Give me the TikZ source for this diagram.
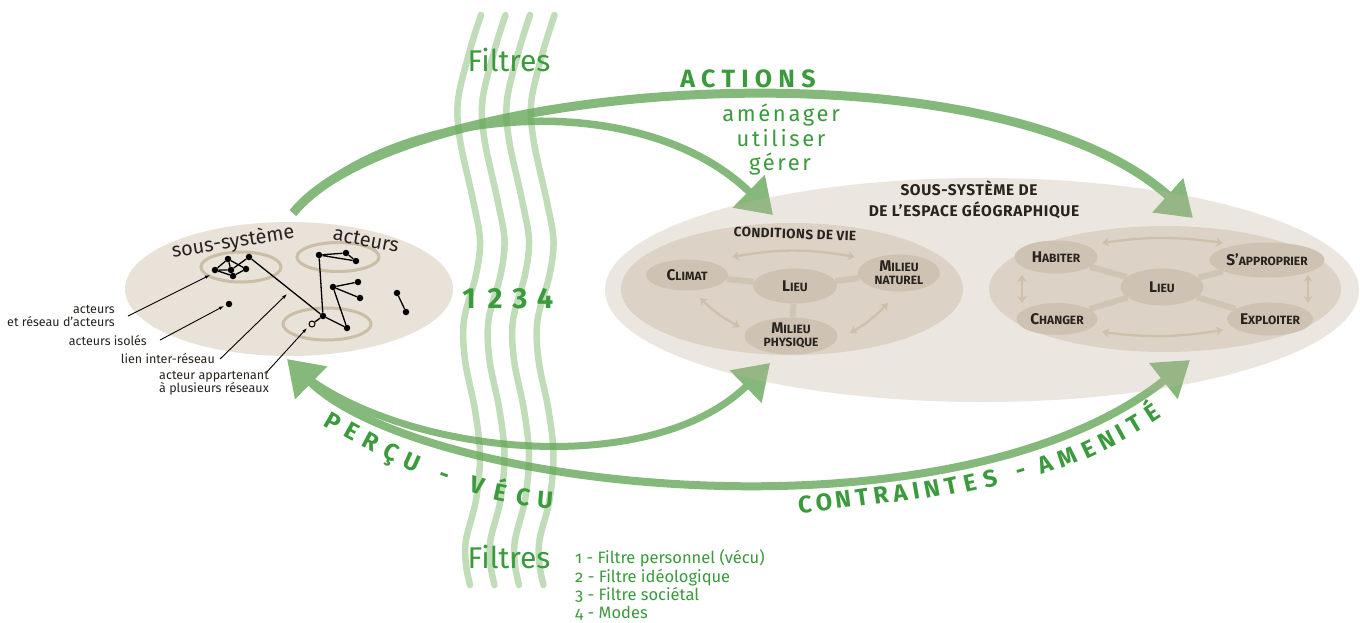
\documentclass[tikz,border=0pt]{standalone}
\usepackage{fontspec}
\setmainfont{Fira Sans}
\usetikzlibrary{arrows.meta,shapes.geometric}
\definecolor{gtext}{RGB}{58,154,60}
\definecolor{garrow}{RGB}{133,185,124}
\definecolor{gfilt}{RGB}{102,168,80}
\definecolor{bgleft}{RGB}{232,226,217}
\definecolor{bgbig}{RGB}{192,178,155}
\definecolor{innerc}{RGB}{220,211,198}
\definecolor{nodec}{RGB}{206,195,178}
\definecolor{linkc}{RGB}{207,197,181}
\definecolor{darrc}{RGB}{205,192,172}
\definecolor{ringc}{RGB}{203,189,166}
\definecolor{txtdark}{RGB}{40,35,30}
\newcommand\Sc[2]{{\fontsize{15.5}{13}\selectfont #1}{\fontsize{12}{13}\selectfont #2}}
\newcommand\Sm[1]{{\fontsize{12}{13}\selectfont #1}}
\newcommand\apos{\symbol{"27}}
\begin{document}
\begin{tikzpicture}[x=1pt,y=-1pt,
  Big/.tip={Triangle[width=44pt,length=34pt]},
  Small/.tip={Stealth[length=7pt,width=9pt]},
  Ptr/.tip={Latex[length=5pt,width=3.5pt]},
  garc/.style={draw=garrow},
  ring/.style={draw=ringc, line width=3pt},
  dot/.style={circle, fill=black, inner sep=0pt, minimum size=6.5pt},
  odot/.style={circle, draw=black, fill=bgleft, line width=1pt, inner sep=0pt, minimum size=6pt},
  net/.style={draw=black, line width=1.3pt},
  ptr/.style={draw=black, line width=0.9pt, -Ptr},
  lbl/.style={font=\fontsize{12.5}{13}\selectfont, text=txtdark, inner sep=0pt, align=right},
  el/.style={ellipse, fill=nodec, inner sep=0pt, align=center, text=txtdark, font=\bfseries\fontsize{12}{13}\selectfont},
  lk/.style={draw=linkc, line width=6pt},
  da/.style={draw=darrc, line width=2.3pt, Small-Small},
  filt/.style={draw=gfilt, draw opacity=0.4, line width=6.5pt, line cap=round},
  gl/.style={text=gtext, inner sep=0pt},
  curvl/.style={text=gtext, inner sep=0pt, text height=16pt, text depth=0pt, anchor=center, font=\bfseries\fontsize{24}{24}\selectfont},
  head/.style={text=txtdark, inner sep=0pt, font=\bfseries\fontsize{15.5}{15.5}\selectfont\addfontfeatures{LetterSpace=4}}
]
\useasboundingbox (0,0) rectangle (1360,622);
\fill[white] (0,0) rectangle (1360,622);

% left sub-system
\fill[bgleft] (289,289) ellipse [x radius=164, y radius=67];

% big arcs
\coordinate (ts) at (293,213);
\coordinate (te1) at (773,215);
\coordinate (te2) at (1193,218);
\coordinate (bs) at (287,359);
\coordinate (bs2) at (305,376);
\coordinate (be1) at (770,363);
\coordinate (be2) at (1190,360);
\draw[garc, line width=9pt, -Big] (ts) .. controls (400,80) and (990,35) .. (te2);
\draw[garc, line width=7.5pt, -Big] (ts) .. controls (390,105) and (640,85) .. (te1);
\draw[garc, line width=8pt, Big-Big] (bs) .. controls (420,490) and (950,550) .. (be2);
\draw[garc, line width=7pt, -Big] (bs2) .. controls (410,455) and (650,480) .. (be1);

% geographic space
\fill[bgbig, opacity=0.3] (982,290) ellipse [x radius=377, y radius=112];
\fill[innerc] (792,289) ellipse [x radius=171, y radius=66];
\fill[innerc] (1165,289) ellipse [x radius=176, y radius=63];

% rings
\draw[ring] (241,267) ellipse [x radius=40, y radius=15];
\draw[ring] (338,257) ellipse [x radius=41, y radius=14.5];
\draw[ring] (327,324) ellipse [x radius=44, y radius=16];

% network
\node[dot] (a1) at (228,259) {};
\node[dot] (a2) at (215,270) {};
\node[dot] (a3) at (231,270) {};
\node[dot] (a4) at (246,269) {};
\node[dot] (a5) at (233,276) {};
\node[dot] (a6) at (249,257) {};
\node[dot] (b0) at (323,316) {};
\node[dot] (b1) at (319,255) {};
\node[dot] (b2) at (346,253) {};
\node[dot] (b3) at (356,261) {};
\node[dot] (c1) at (333,287) {};
\node[dot] (c2) at (358,282) {};
\node[dot] (c3) at (360,298) {};
\node[dot] (c4) at (347,328) {};
\node[odot] (o1) at (312,324) {};
\node[dot] (d1) at (397,293) {};
\node[dot] (d2) at (406,312) {};
\node[dot] (e1) at (229,304) {};
\draw[net] (a2) -- (a1) -- (a4) -- (a5) -- (a2) -- (a3) -- (a6);
\draw[net] (a1) -- (a3);
\draw[net] (a6) -- (b0);
\draw[net] (b1) -- (b2) -- (b3) -- (b1) -- (b0);
\draw[net] (c2) -- (c1) -- (c3);
\draw[net] (c1) -- (c4) -- (b0) -- (o1);
\draw[net] (d1) -- (d2);

% labels left
\node[lbl, anchor=east] (l1) at (115,316) {acteurs\\et réseau d\apos acteurs};
\node[lbl, anchor=base east] (l2) at (147,345) {acteurs isolés};
\node[lbl, anchor=base east] (l3) at (215,363) {lien inter-réseau};
\node[lbl, anchor=east] (l4) at (269,383) {acteur appartenant\\à plusieurs réseaux};
\coordinate (p1) at (210,275);
\coordinate (p2) at (224,306);
\coordinate (p3) at (287,294);
\coordinate (p4) at (307,328);
\draw[ptr] ([xshift=13pt]l1.east) -- (p1);
\draw[ptr] ([xshift=13pt]l2.east) -- (p2);
\draw[ptr] ([xshift=5pt,yshift=-1pt]l3.east) -- (p3);
\draw[ptr] ([xshift=-2pt,yshift=-1pt]l4.north east) -- (p4);
\node[font=\fontsize{20}{20}\selectfont, text=txtdark, inner sep=0pt, rotate=9] (ss) at (233,242) {sous-système};
\node[font=\fontsize{20}{20}\selectfont, text=txtdark, inner sep=0pt, rotate=-11] (act) at (366,240) {acteurs};

% conditions de vie
\node[el, minimum width=82pt, minimum height=31pt] (climat) at (687,275) {\Sc{C}{LIMAT}};
\node[el, minimum width=84pt, minimum height=35pt] (lieuA) at (795,286) {\Sc{L}{IEU}};
\node[el, minimum width=82pt, minimum height=37pt] (naturel) at (899,273) {\Sc{M}{ILIEU}\\\Sm{NATUREL}};
\node[el, minimum width=93pt, minimum height=37pt] (physique) at (791,336) {\Sc{M}{ILIEU}\\\Sm{PHYSIQUE}};
\draw[lk] (lieuA) -- (climat);
\draw[lk] (lieuA) -- (naturel);
\draw[lk] (lieuA) -- (physique);
\coordinate (q1) at (732,257); \coordinate (q2) at (855,257);
\coordinate (q3) at (700,298); \coordinate (q4) at (740,327);
\coordinate (q5) at (850,333); \coordinate (q6) at (888,303);
\draw[da] (q1) to[bend left=10] (q2);
\draw[da] (q3) to[bend right=8] (q4);
\draw[da] (q5) to[bend right=8] (q6);
\node[text=txtdark, inner sep=0pt, font=\bfseries\fontsize{13.5}{13.5}\selectfont\addfontfeatures{LetterSpace=3}, rotate=-2] (cond) at (795,234) {CONDITIONS DE VIE};

% habiter etc.
\node[el, minimum width=83pt, minimum height=33pt] (habiter) at (1056,257) {\Sc{H}{ABITER}};
\node[el, minimum width=83pt, minimum height=37pt] (lieuB) at (1162,287) {\Sc{L}{IEU}};
\node[el, minimum width=93pt, minimum height=35pt] (approp) at (1267,260) {\Sc{S\apos}{APPROPRIER}};
\node[el, minimum width=81pt, minimum height=32pt] (changer) at (1057,319) {\Sc{C}{HANGER}};
\node[el, minimum width=86pt, minimum height=33pt] (exploit) at (1270,319) {\Sc{E}{XPLOITER}};
\draw[lk] (lieuB) -- (habiter);
\draw[lk] (lieuB) -- (approp);
\draw[lk] (lieuB) -- (changer);
\draw[lk] (lieuB) -- (exploit);
\coordinate (r1) at (1102,243); \coordinate (r2) at (1223,243);
\coordinate (r3) at (1102,332); \coordinate (r4) at (1223,330);
\coordinate (r5) at (1022,275); \coordinate (r6) at (1022,303);
\coordinate (r7) at (1308,275); \coordinate (r8) at (1308,303);
\draw[da] (r1) to[bend left=8] (r2);
\draw[da] (r3) to[bend right=8] (r4);
\draw[da] (r5) -- (r6);
\draw[da] (r7) -- (r8);
\node[head] (h1) at (969,188) {SOUS-SYSTÈME DE};
\node[head] (h2) at (974,210) {DE L\apos ESPACE GÉOGRAPHIQUE};

% filters
\foreach \k in {0,1,2,3}{
  \draw[filt, xshift=\k*24.5pt] plot[smooth, tension=0.55] coordinates {(481,15) (470,50) (458,100) (460,140) (473,200) (480,240) (476,275) (464,320) (465,360) (475,410) (480,455) (476,500) (466,540) (466,565) (470,585)};
}
\node[gl, anchor=base, font=\fontsize{30}{30}\selectfont] (f1) at (509,71) {Filtres};
\node[gl, anchor=base, font=\fontsize{30}{30}\selectfont] (f2) at (509,568) {Filtres};
\node[gl, anchor=base, font=\bfseries\fontsize{29}{29}\selectfont] (n1) at (469,308) {1};
\node[gl, anchor=base, font=\bfseries\fontsize{29}{29}\selectfont] (n2) at (495,308) {2};
\node[gl, anchor=base, font=\bfseries\fontsize{29}{29}\selectfont] (n3) at (520,308) {3};
\node[gl, anchor=base, font=\bfseries\fontsize{29}{29}\selectfont] (n4) at (545,308) {4};

% legend
\node[gl, anchor=base west, font=\fontsize{16.5}{18}\selectfont\addfontfeatures{Numbers=OldStyle}] (g1) at (575,563) {1 - Filtre personnel (vécu)};
\node[gl, anchor=base west, font=\fontsize{16.5}{18}\selectfont\addfontfeatures{Numbers=OldStyle}] (g2) at (575,582) {2 - Filtre idéologique};
\node[gl, anchor=base west, font=\fontsize{16.5}{18}\selectfont\addfontfeatures{Numbers=OldStyle}] (g3) at (575,600) {3 - Filtre sociétal};
\node[gl, anchor=base west, font=\fontsize{16.5}{18}\selectfont\addfontfeatures{Numbers=OldStyle}] (g4) at (575,618) {4 - Modes};

% actions
\node[gl, anchor=base, font=\bfseries\fontsize{25}{25}\selectfont\addfontfeatures{LetterSpace=25}] (actions) at (748,87) {ACTIONS};
\node[gl, anchor=base, font=\fontsize{22}{22}\selectfont\addfontfeatures{LetterSpace=12}] (am) at (781,121) {aménager};
\node[gl, anchor=base, font=\fontsize{22}{22}\selectfont\addfontfeatures{LetterSpace=12}] (ut) at (781,146) {utiliser};
\node[gl, anchor=base, font=\fontsize{22}{22}\selectfont\addfontfeatures{LetterSpace=12}] (ge) at (780,170) {gérer};

% perçu - vécu
\foreach \ch/\x/\y/\r in {P/333/422/-30, E/352/432/-29, R/371/442/-28, Ç/391/452/-26, U/412/462/-24, -/445/475/-20, V/477/486/-16, É/500/493/-12, C/523/498/-8, U/545/500/-5}{
  \node[curvl, rotate=\r] (pv\x) at (\x,\y) {\ch};
}
% contraintes - amenite
\foreach \ch/\x/\y/\r in {C/805/505/5, O/824/503/6, N/843/500/7, T/862/498/8, R/881/495/9, A/900/493/9, I/916/491/10, N/932/489/11, T/951/486/12, E/970/483/13, S/990/479/14, -/1021/470/17, A/1045/465/20, M/1067/458/22, E/1089/450/25, N/1107/441/27, I/1121/433/29, T/1135/424/31, É/1152/413/33}{
  \node[curvl, rotate=\r] (ca\x) at (\x,\y) {\ch};
}
\end{tikzpicture}
\end{document}
